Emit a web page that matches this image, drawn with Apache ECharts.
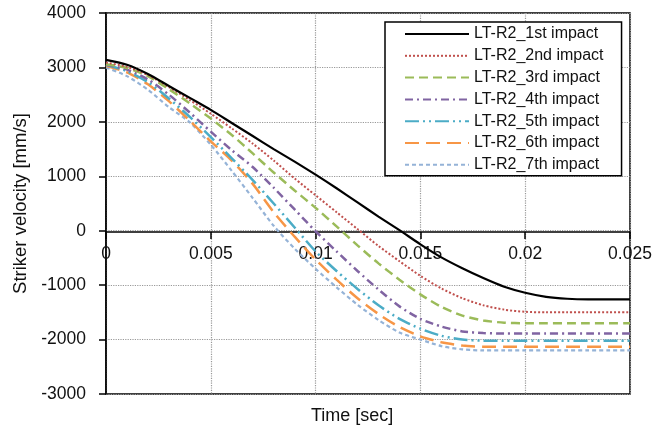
<!doctype html>
<html lang="en">
<head>
  <meta charset="UTF-8">
  <title>Striker velocity</title>
  <style>
    * { margin: 0; padding: 0; box-sizing: border-box; }
    html, body { width: 100%; height: 100%; background: #ffffff; }
    #main { width: 656px; height: 431px; }
  </style>
</head>
<body>
  <div id="main"></div>
  <script src="https://cdn.jsdelivr.net/npm/echarts@6/dist/echarts.min.js"></script>
  <script>
    // time [sec], one sample every 1 ms
    let times = [0, 0.001, 0.002, 0.003, 0.004, 0.005, 0.006, 0.007, 0.008, 0.009,
      0.010, 0.011, 0.012, 0.013, 0.014, 0.015, 0.016, 0.017, 0.018, 0.019,
      0.020, 0.021, 0.022, 0.023, 0.024, 0.025]

    let names = ['LT-R2_1st impact', 'LT-R2_2nd impact', 'LT-R2_3rd impact', 'LT-R2_4th impact',
      'LT-R2_5th impact', 'LT-R2_6th impact', 'LT-R2_7th impact']

    // striker velocity [mm/s]
    let impact1 = [3140, 3050, 2880, 2660, 2440, 2220, 1980, 1740, 1500, 1270,
      1030, 780, 520, 260, 10, -250, -490, -690, -870, -1030,
      -1140, -1215, -1250, -1260, -1260, -1260]
    let impact2 = [3090, 3010, 2860, 2640, 2400, 2150, 1880, 1600, 1290, 960,
      650, 340, 30, -280, -560, -830, -1060, -1240, -1370, -1450,
      -1490, -1500, -1500, -1500, -1500, -1500]
    let impact3 = [3060, 2990, 2840, 2600, 2340, 2060, 1760, 1420, 1070, 740,
      420, 80, -270, -600, -900, -1170, -1400, -1560, -1650, -1690,
      -1700, -1700, -1700, -1700, -1700, -1700]
    let impact4 = [3050, 2960, 2780, 2500, 2170, 1820, 1480, 1170, 790, 390,
      -10, -380, -740, -1080, -1390, -1620, -1760, -1850, -1880, -1890,
      -1890, -1890, -1890, -1890, -1890, -1890]
    let impact5 = [3050, 2930, 2730, 2430, 2090, 1720, 1330, 930, 500, 60,
      -380, -740, -1070, -1370, -1620, -1800, -1930, -2000, -2020, -2020,
      -2020, -2020, -2020, -2020, -2020, -2020]
    let impact6 = [3030, 2910, 2690, 2380, 2020, 1640, 1290, 860, 340, -110,
      -530, -900, -1240, -1530, -1770, -1940, -2050, -2110, -2130, -2130,
      -2130, -2130, -2130, -2130, -2130, -2130]
    let impact7 = [3000, 2840, 2590, 2270, 1990, 1580, 1100, 600, 90, -330,
      -700, -1040, -1360, -1640, -1870, -2000, -2120, -2180, -2200, -2200,
      -2200, -2200, -2200, -2200, -2200, -2200]

    let values = [impact1, impact2, impact3, impact4, impact5, impact6, impact7]
    let colors = ['#000000', '#C0504D', '#9BBB59', '#8064A2', '#4BACC6', '#F79646', '#95B3D7']
    let dashes = ['solid', [2, 2], [9, 5], [8, 4, 2, 4], [14, 4, 2, 4, 2, 4], [14, 7], [4, 3]]
    let widths = [2.2, 2, 2.5, 2.5, 2.5, 2.5, 2.2]

    let font = '"Liberation Sans", Arial, sans-serif'

    let series = names.map(function (name, k) {
      return {
        name: name,
        type: 'line',
        symbol: 'none',
        smooth: 0.25,
        lineStyle: { color: colors[k], width: widths[k], type: dashes[k] },
        itemStyle: { color: colors[k] },
        z: 10 - k,
        data: times.map(function (t, i) { return [t, values[k][i]] })
      }
    })

    let myChart = echarts.init(document.getElementById('main'))
    let option = {
      animation: false,
      textStyle: { fontFamily: font },
      grid: {
        left: 106, right: 26, top: 13, bottom: 37,
        show: true,
        borderColor: '#000000',
        borderWidth: 1.5,
        containLabel: false
      },
      legend: {
        orient: 'vertical',
        left: 385,
        top: 22,
        padding: [4, 18, 3, 19],
        itemWidth: 64,
        itemHeight: 14,
        itemGap: 5.8,
        backgroundColor: '#ffffff',
        borderColor: '#000000',
        borderWidth: 1.5,
        borderRadius: 0,
        itemStyle: { opacity: 0, borderWidth: 0 },
        textStyle: { fontFamily: font, fontSize: 16, color: '#111111' },
        data: names
      },
      graphic: [{
        type: 'text',
        left: 311,
        top: 407,
        style: { text: 'Time [sec]', fontFamily: font, fontSize: 18, fill: '#111111' }
      }],
      xAxis: {
        type: 'value',
        min: 0,
        max: 0.025,
        interval: 0.005,
        position: 'bottom',
        offset: -162,
        axisLine: { onZero: false, lineStyle: { color: '#000000', width: 1.5 } },
        axisTick: { show: true, length: 7, inside: false, lineStyle: { color: '#000000', width: 1.5 } },
        axisLabel: { margin: 13, fontSize: 17.5, color: '#111111', fontFamily: font },
        splitLine: { show: true, lineStyle: { color: '#999999', type: 'dotted', width: 1.2 } }
      },
      yAxis: {
        type: 'value',
        min: -3000,
        max: 4000,
        interval: 1000,
        name: 'Striker velocity [mm/s]',
        nameLocation: 'middle',
        nameGap: 75,
        nameTextStyle: { fontSize: 18.5, color: '#111111', fontFamily: font },
        axisLine: { show: true, lineStyle: { color: '#000000', width: 1.5 } },
        axisTick: { show: true, length: 7, lineStyle: { color: '#000000', width: 1.5 } },
        axisLabel: {
          margin: 20, fontSize: 17.5, color: '#111111', fontFamily: font,
          formatter: function (v) { return String(v) }
        },
        splitLine: { show: true, lineStyle: { color: '#999999', type: 'dotted', width: 1.2 } }
      },
      series: series
    }
    myChart.setOption(option)
  </script>
</body>
</html>
